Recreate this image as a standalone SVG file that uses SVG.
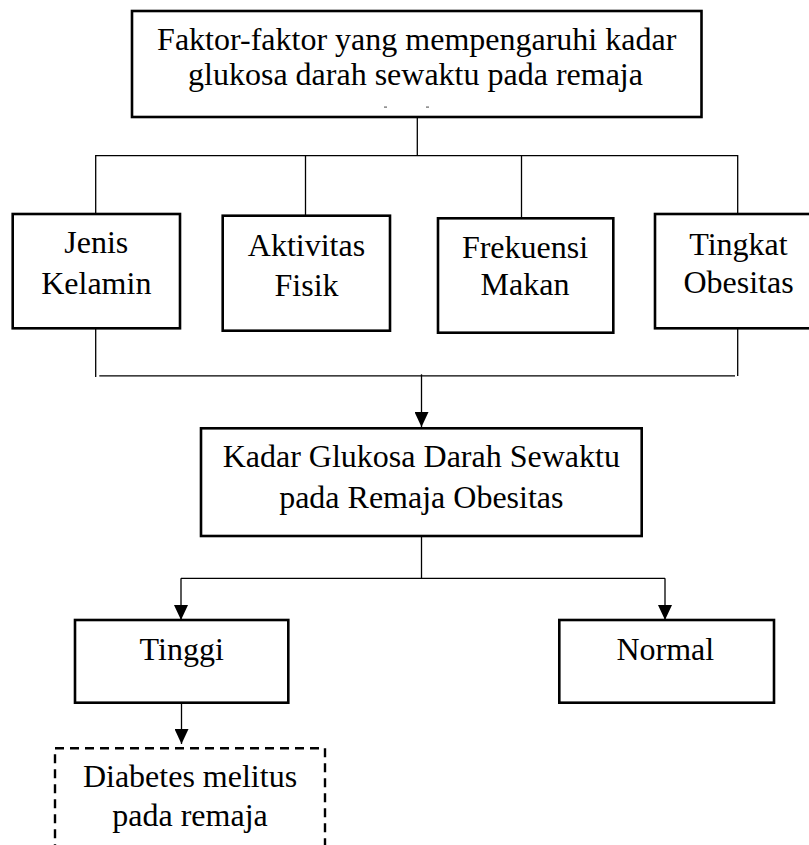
<svg xmlns="http://www.w3.org/2000/svg" width="809" height="845" viewBox="0 0 809 845">
<style>
.box{fill:#fff;stroke:#000;stroke-width:2.6}
.dash{fill:#fff;stroke:#000;stroke-width:2.4;stroke-dasharray:9 6}
.t{font-family:"Liberation Serif","Times New Roman",serif;font-size:32px;fill:#000;text-anchor:middle}
.c{fill:none;stroke:#000;stroke-width:1.3}
</style>
<defs>
<marker id="arr" markerUnits="userSpaceOnUse" markerWidth="15" markerHeight="14" refX="15" refY="7" orient="auto" viewBox="0 0 15 14">
<path d="M0,0 L15,7 L0,14 Z" fill="#000"/>
</marker>
</defs>
<rect width="809" height="845" fill="#fff"/>
<g id="connectors">
<line class="c" x1="417.3" y1="117" x2="417.3" y2="155.7"/>
<polyline class="c" points="95.7,214 95.7,155.7 737.7,155.7 737.7,214"/>
<line class="c" x1="305.5" y1="155.7" x2="305.5" y2="215.7"/>
<line class="c" x1="521.5" y1="155.7" x2="521.5" y2="218"/>
<line class="c" x1="95.7" y1="328" x2="95.7" y2="377"/>
<line class="c" x1="737.7" y1="328" x2="737.7" y2="376"/>
<line class="c" x1="99.3" y1="375.8" x2="735" y2="375.8"/>
<line class="c" x1="421.5" y1="374.3" x2="421.5" y2="427" marker-end="url(#arr)"/>
<line class="c" x1="421.5" y1="536" x2="421.5" y2="578.3"/>
<line class="c" x1="181" y1="578.3" x2="665" y2="578.3"/>
<line class="c" x1="181" y1="578.3" x2="181" y2="620" marker-end="url(#arr)"/>
<line class="c" x1="665" y1="578.3" x2="665" y2="620" marker-end="url(#arr)"/>
<line class="c" x1="181.5" y1="703" x2="181.5" y2="744" marker-end="url(#arr)"/>
</g>
<g id="top">
<rect class="box" x="132" y="11" width="569.5" height="106"/>
<text class="t" x="416.7" y="50">Faktor-faktor yang mempengaruhi kadar</text>
<text class="t" x="415.5" y="85">glukosa darah sewaktu pada remaja</text>
<rect x="384" y="106.5" width="3" height="1.2" fill="#666"/>
<rect x="426" y="106.5" width="3" height="1.2" fill="#666"/>
</g>
<g id="jenis">
<rect class="box" x="12.7" y="214" width="167.3" height="114.3"/>
<text class="t" x="96.3" y="253.3">Jenis</text>
<text class="t" x="96.3" y="294.3">Kelamin</text>
</g>
<g id="aktivitas">
<rect class="box" x="222.7" y="215.7" width="167.3" height="115"/>
<text class="t" x="306.5" y="256">Aktivitas</text>
<text class="t" x="306.5" y="296">Fisik</text>
</g>
<g id="frekuensi">
<rect class="box" x="438" y="218.3" width="175.3" height="114.4"/>
<text class="t" x="525" y="258">Frekuensi</text>
<text class="t" x="525" y="295">Makan</text>
</g>
<g id="tingkat">
<rect class="box" x="655" y="214" width="167" height="114.3"/>
<text class="t" x="738.5" y="255">Tingkat</text>
<text class="t" x="738.5" y="293.3">Obesitas</text>
</g>
<g id="kadar">
<rect class="box" x="201" y="428.3" width="440.7" height="107.7"/>
<text class="t" x="421.3" y="466.7">Kadar Glukosa Darah Sewaktu</text>
<text class="t" x="421.3" y="508.3">pada Remaja Obesitas</text>
</g>
<g id="tinggi">
<rect class="box" x="75" y="620" width="213.3" height="82.7"/>
<text class="t" x="181.7" y="660">Tinggi</text>
</g>
<g id="normal">
<rect class="box" x="559.3" y="620" width="214.7" height="82.7"/>
<text class="t" x="665.3" y="660">Normal</text>
</g>
<g id="diabetes">
<rect class="dash" x="55" y="748.3" width="270" height="120"/>
<text class="t" x="190" y="786.7">Diabetes melitus</text>
<text class="t" x="190" y="826">pada remaja</text>
</g>
</svg>
